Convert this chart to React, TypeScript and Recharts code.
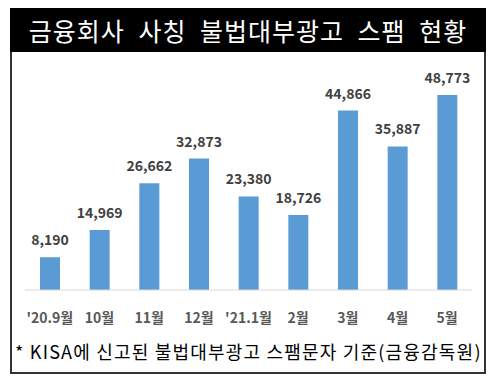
import React from "react";
import { BarChart, Bar, XAxis, YAxis, LabelList } from "recharts";

const categories = ["'20.9월", "10월", "11월", "12월", "'21.1월", "2월", "3월", "4월", "5월"];
const spamCounts = [8190, 14969, 26662, 32873, 23380, 18726, 44866, 35887, 48773];
const titleText = "금융회사 사칭 불법대부광고 스팸 현황";
const footnoteText = "*  KISA에 신고된 불법대부광고 스팸문자 기준(금융감독원)";

const data = categories.map((c, i) => ({ name: c, value: spamCounts[i] }));

const FONT = "'Noto Sans CJK KR', 'Noto Sans', sans-serif";

const Tick = (props: any) => {
  const { x, y, payload } = props;
  return (
    <text x={x} y={y + 33} textAnchor="middle" fill="#595959" fontSize={14} fontWeight={700} fontFamily={FONT}>
      {payload.value}
    </text>
  );
};

const ValueLabel = (props: any) => {
  const { x, y, width, value } = props;
  return (
    <text x={x + width / 2} y={y - 12} textAnchor="middle" fill="#404040" fontSize={14} fontWeight={700} fontFamily={FONT}>
      {Number(value).toLocaleString("en-US")}
    </text>
  );
};

export default function App() {
  return (
    <div style={{ position: "absolute", left: 0, top: 0, width: 501, height: 386, background: "#fff", fontFamily: FONT }}>
      <div
        style={{
          position: "absolute",
          left: 10,
          top: 8,
          width: 476,
          height: 366,
          boxSizing: "border-box",
          border: "2px solid #333",
        }}
      />
      <div
        style={{
          position: "absolute",
          left: 10,
          top: 8,
          width: 476,
          height: 44,
          background: "#000",
          color: "#fff",
          fontSize: 25,
          lineHeight: "44px",
          textAlign: "center",
          whiteSpace: "nowrap",
          letterSpacing: 1,
          wordSpacing: 7,
        }}
      >
        {titleText}
      </div>
      <div style={{ position: "absolute", left: 0, top: 0 }}>
        <BarChart width={501} height={386} data={data} margin={{ top: 70, left: 25, right: 29, bottom: 66 }}>
          <YAxis hide domain={[0, 55000]} />
          <XAxis
            dataKey="name"
            height={30}
            tickLine={false}
            tickSize={0}
            tickMargin={0}
            axisLine={{ stroke: "#d9d9d9", strokeWidth: 1 }}
            tick={<Tick />}
            interval={0}
          />
          <Bar dataKey="value" fill="#5b9bd5" barSize={20} isAnimationActive={false}>
            <LabelList dataKey="value" content={<ValueLabel />} />
          </Bar>
        </BarChart>
      </div>
      <div
        style={{
          position: "absolute",
          left: 15,
          top: 340,
          fontSize: 18,
          lineHeight: "22px",
          letterSpacing: 1.2,
          color: "#000",
          whiteSpace: "nowrap",
        }}
      >
        {footnoteText}
      </div>
    </div>
  );
}
